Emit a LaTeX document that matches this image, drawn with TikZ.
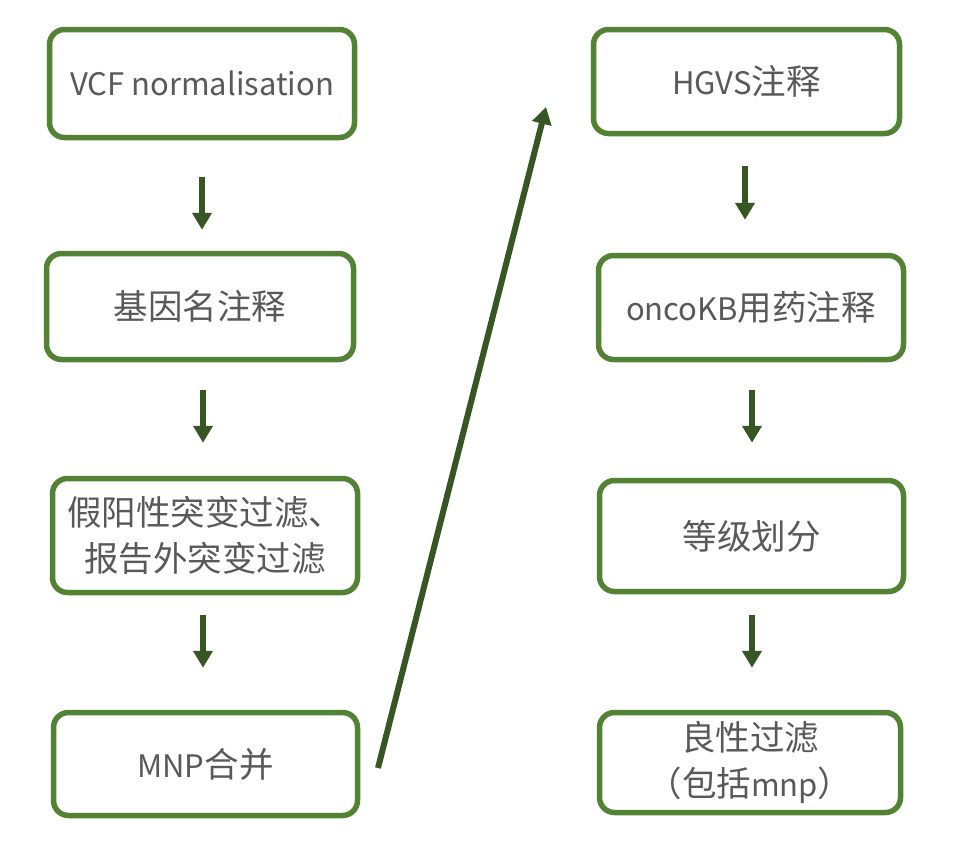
\documentclass[tikz,border=0pt]{standalone}
\usepackage{fontspec}
\setmainfont{Noto Sans CJK SC}
\usetikzlibrary{arrows.meta}
\definecolor{boxgreen}{HTML}{548235}
\definecolor{arrgreen}{HTML}{375623}
\definecolor{txtgray}{HTML}{595959}
\newcommand{\latn}[1]{{\fontsize{31}{46}\selectfont #1}}
\tikzset{
  stepbox/.style={draw=boxgreen, line width=5.5pt, rounded corners=15pt, fill=white,
    text=txtgray, align=center, inner sep=0pt,
    font=\fontsize{34.5}{46}\selectfont},
  flowarr/.style={draw=arrgreen, line width=6pt,
    -{Triangle[width=19pt,length=17pt]}}
}
\begin{document}
\begin{tikzpicture}[x=1pt,y=-1pt]
\useasboundingbox (0,0) rectangle (964,857);
% left column
\node[stepbox, minimum width=305pt, minimum height=108pt] (L1) at (202,83.5) {\latn{VCF normalisation}};
\node[stepbox, minimum width=307pt, minimum height=106pt] (L2) at (200,306.5) {基因名注释};
\node[stepbox, minimum width=305pt, minimum height=114pt] (L3) at (205,535.5) {假阳性突变过滤、\\报告外突变过滤};
\node[stepbox, minimum width=304pt, minimum height=103pt] (L4) at (205.5,764) {\latn{MNP}合并};
% right column
\node[stepbox, minimum width=306pt, minimum height=104pt] (R1) at (746.5,81.5) {\latn{HGVS}注释};
\node[stepbox, minimum width=305pt, minimum height=104pt] (R2) at (751,307.5) {\latn{oncoKB}用药注释};
\node[stepbox, minimum width=304pt, minimum height=111pt] (R3) at (751.5,536) {等级划分};
\node[stepbox, minimum width=301pt, minimum height=100pt] (R4) at (750,762.5) {良性过滤\\（包括\latn{mnp}）};
% vertical arrows
\draw[flowarr, shorten <=37pt, shorten >=21pt] (L1.south -| 202,0) -- (L2.north -| 202,0);
\draw[flowarr, shorten <=28pt, shorten >=33pt] (L2.south -| 203,0) -- (L3.north -| 203,0);
\draw[flowarr, shorten <=20pt, shorten >=42pt] (L3.south -| 203,0) -- (L4.north -| 203,0);
\draw[flowarr, shorten <=30pt, shorten >=33pt] (R1.south -| 745,0) -- (R2.north -| 745,0);
\draw[flowarr, shorten <=28pt, shorten >=35pt] (R2.south -| 752,0) -- (R3.north -| 752,0);
\draw[flowarr, shorten <=21pt, shorten >=42pt] (R3.south -| 752,0) -- (R4.north -| 752,0);
% long arrow
\coordinate (longstart) at (378,768);
\coordinate (longend) at (546,107);
\draw[flowarr] (longstart) -- (longend);
\end{tikzpicture}
\end{document}
